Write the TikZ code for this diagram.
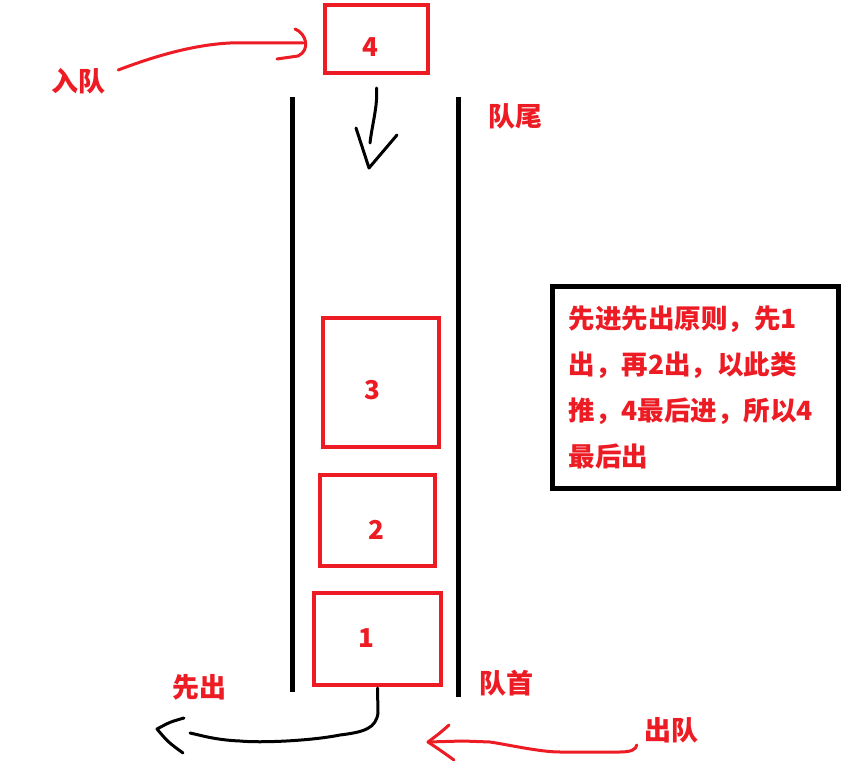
\documentclass[tikz,border=0pt]{standalone}
\usepackage{fontspec}
\setmainfont{Noto Sans CJK SC}
\usetikzlibrary{positioning,calc}
\definecolor{paintred}{HTML}{ED1C24}

\begin{document}
\begin{tikzpicture}[
    x=1pt, y=-1pt,
    cell/.style={draw=paintred,line width=4pt,inner sep=0pt},
    num/.style={text=paintred,font=\bfseries\fontsize{26}{30}\selectfont,inner sep=0pt},
    lbl/.style={text=paintred,font=\bfseries\fontsize{27}{30}\selectfont,inner sep=0pt},
    wall/.style={line width=5pt,black},
    hand/.style={line width=3pt,line cap=round,line join=round},
  ]
  \useasboundingbox[fill=white] (0,0) rectangle (857,778);

  % the queue walls
  \draw[wall] (292,97) -- (292,692);
  \draw[wall] (458,97) -- (458,697);

  % elements
  \node[cell,minimum width=103,minimum height=68] (c4) at (376.5,39) {};
  \node[cell,minimum width=116,minimum height=129] (c3) at (381,382) {};
  \node[cell,minimum width=115,minimum height=91] (c2) at (377.5,520) {};
  \node[cell,minimum width=127,minimum height=92] (c1) at (377.5,639) {};
  \node[num] at (370,47) {4};
  \node[num] at (372,390) {3};
  \node[num] at (376,530) {2};
  \node[num] at (366,638) {1};

  % labels
  \node[lbl] (enq) at (78,81) {入队};
  \node[lbl] (tail) at (515,116) {队尾};
  \node[lbl] (head) at (506,683) {队首};
  \node[lbl] (first) at (199,687) {先出};
  \node[lbl] (deq) at (671,730) {出队};

  % note
  \node[draw=black,line width=5pt,anchor=north west,minimum width=286,
        minimum height=202,inner xsep=16pt,inner ysep=0pt,text width=254pt,
        align=left,text=paintred,font=\bfseries\fontsize{26.5}{46}\selectfont]
        (note) at (550,284) {先进先出原则，先1\\出，再2出，以此类\\推，4最后进，所以4\\最后出};

  % enqueue arrow
  \coordinate (entip) at ([shift={(-20,4)}]c4.west);
  \draw[hand,paintred] ([shift={(13,-11)}]enq.east)
    .. controls (150,58) and (190,45) .. (230,43) -- (entip);
  \draw[hand,paintred] (295,29) .. controls (306,33) and (311,50) .. (298,56) -- (277,59);

  % drop into the queue
  \coordinate (drop) at (369,168);
  \draw[hand] ([shift={(0,13)}]c4.south) .. controls (378,105) and (372,125) .. ($(drop)+(1,-25)$);
  \draw[hand] (356,128) -- (drop) -- (397,135);

  % first out
  \coordinate (outtip) at (157,729);
  \draw[hand] ([shift={(0,1)}]c1.south) -- (378,713) .. controls (376,728) and (365,732) .. (340,735)
    .. controls (310,741) and (260,743) .. (240,741) .. controls (215,740) and (200,735) .. (190,733);
  \draw[hand] (184,718) .. controls (170,722) .. (outtip) .. controls (168,742) .. (183,753);

  % dequeue arrow
  \coordinate (deqtip) at (428,742);
  \draw[hand,paintred] ([shift={(-7,15)}]deq.west) .. controls (636,750) and (630,752) .. (620,752)
    -- (560,752) .. controls (540,752) and (510,745) .. (490,742) -- (463,741) -- (deqtip);
  \draw[hand,paintred] (449,725) .. controls (440,733) .. (deqtip) .. controls (440,750) .. (454,760);
\end{tikzpicture}
\end{document}
